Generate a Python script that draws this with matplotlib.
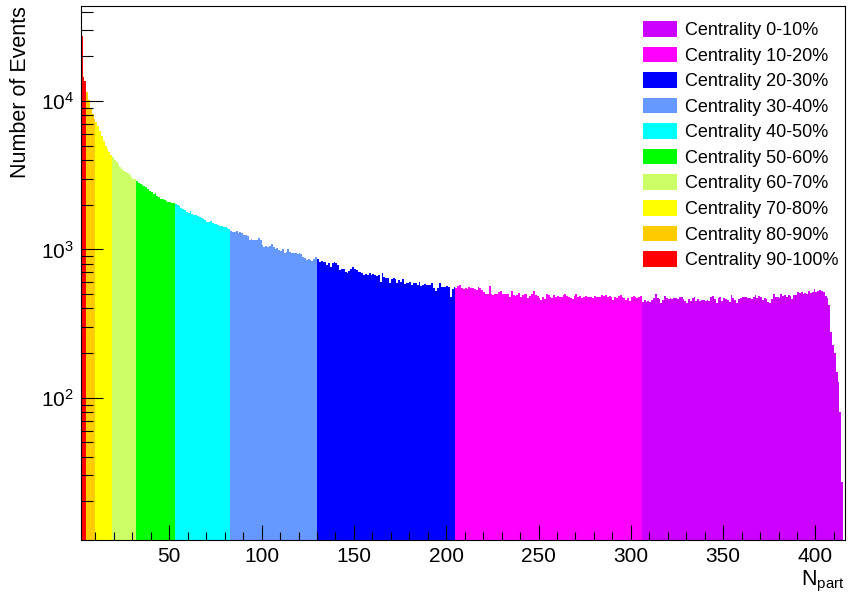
import numpy as np
import matplotlib
matplotlib.use('Agg')
import matplotlib.pyplot as plt
from matplotlib.patches import Patch
from matplotlib.ticker import LogLocator, NullFormatter, MultipleLocator

plt.rcParams['font.family'] = ['Liberation Sans', 'DejaVu Sans']
plt.rcParams['mathtext.fontset'] = 'custom'
plt.rcParams['mathtext.rm'] = 'Liberation Sans'
plt.rcParams['mathtext.it'] = 'Liberation Sans:italic'
plt.rcParams['mathtext.default'] = 'regular'

# Npart histogram, 1-wide bins, one list per centrality class
classes = ['0-10%', '10-20%', '20-30%', '30-40%', '40-50%',
           '50-60%', '60-70%', '70-80%', '80-90%', '90-100%']
colors = ['#cc00ff', '#ff00ff', '#0000ff', '#6699ff', '#00ffff',
          '#00ff00', '#ccff66', '#ffff00', '#ffcc00', '#ff0000']
first_bin = [306, 205, 130, 83, 53, 32, 19, 10, 5, 2]

c90_100 = [27300, 14400, 13600]
c80_90 = [11500, 10200, 9030, 8130, 7600]
c70_80 = [7220, 6760, 6250, 5780, 5380, 5010, 4750, 4510, 4330]
c60_70 = [4160, 3990, 3850, 3750, 3590, 3470, 3360, 3310, 3270, 3170, 3060, 3000, 2960]
c50_60 = [2890, 2820, 2760, 2720, 2680, 2620, 2540, 2490, 2430, 2370, 2390,
          2290, 2250, 2200, 2180, 2140, 2120, 2090, 2070, 2060, 2050]
c40_50 = [2036, 2005, 1954, 1913, 1875, 1837, 1799, 1762, 1818, 1735,
          1717, 1699, 1673, 1647, 1630, 1605, 1572, 1540, 1532, 1548,
          1516, 1493, 1478, 1463, 1447, 1433, 1418, 1410, 1396, 1375]
c30_40 = [1333, 1310, 1310, 1322, 1290,
          1299, 1279, 1246, 1259, 1227, 1165, 1170, 1153, 1165, 1165,
          1184, 1165, 1078, 1040, 1051, 1040, 1051, 1095, 1040, 1013,
          1029, 988, 978, 998, 950, 962, 1003, 962, 948, 938,
          938, 928, 938, 928, 890, 870, 850, 855, 846, 833, 855, 882]
c20_30 = [855, 824, 837, 825, 824, 783, 803, 763, 803, 824,
          803, 783, 724, 743, 743, 706, 688, 717, 743, 763,
          732, 730, 706, 706, 695, 670, 681, 670, 695, 670,
          681, 670, 660, 670, 605, 695, 653, 637, 646, 589,
          627, 637, 632, 595, 620, 605, 627, 583, 595, 597,
          605, 574, 589, 595, 574, 605, 565, 574, 583, 574,
          574, 574, 595, 545, 526, 545, 589, 559, 554, 555,
          565, 554, 479, 537, 554]
c10_20 = [545, 565, 574, 545, 537, 545, 540, 554, 545, 545,
          537, 531, 554, 545, 531, 514, 499, 504, 565, 499,
          491, 499, 504, 518, 526, 504, 504, 499, 504, 479,
          526, 491, 484, 491, 510, 474, 491, 499, 504, 467,
          484, 504, 526, 490, 484, 467, 455, 479, 460, 499,
          491, 474, 470, 491, 479, 484, 474, 479, 491, 499,
          484, 474, 467, 460, 484, 499, 479, 484, 467, 479,
          484, 474, 480, 479, 467, 484, 479, 474, 479, 491,
          484, 491, 474, 484, 474, 455, 474, 467, 484, 491,
          479, 467, 455, 467, 450, 474, 484, 479, 467, 480, 488]
c0_10 = [443, 455, 443, 450, 443, 455, 467, 499, 467, 460,
         432, 455, 484, 467, 460, 467, 460, 467, 467, 460,
         474, 479, 460, 450, 436, 460, 450, 467, 474, 450,
         460, 450, 455, 455, 450, 455, 450, 474, 484, 460,
         436, 467, 474, 450, 467, 460, 455, 443, 491, 467,
         455, 432, 460, 467, 474, 479, 474, 467, 467, 460,
         474, 491, 467, 484, 479, 455, 467, 460, 443, 432,
         460, 499, 479, 474, 467, 499, 484, 491, 474, 491,
         484, 460, 491, 491, 518, 510, 518, 504, 510, 499,
         526, 510, 518, 537, 518, 526, 531, 526, 515, 485,
         470, 421, 278, 225, 200, 150, 128, 80, 27]

counts = [c0_10, c10_20, c20_30, c30_40, c40_50,
          c50_60, c60_70, c70_80, c80_90, c90_100]

fig = plt.figure(figsize=(8.5, 6), dpi=100)
ax = fig.add_axes([0.0949, 0.1, 0.8992, 0.8905])

handles = []
for vals, start, col, lab in zip(counts, first_bin, colors, classes):
    edges = np.arange(start, start + len(vals) + 1)
    ax.stairs(vals, edges, fill=True, color=col, baseline=1, lw=0)
    handles.append(Patch(facecolor=col, edgecolor='none', label='Centrality ' + lab))

ax.set_yscale('log')
ax.set_xlim(2, 416)
ax.set_ylim(11, 43850)

ax.xaxis.set_major_locator(MultipleLocator(50))
ax.xaxis.set_minor_locator(MultipleLocator(10))
ax.yaxis.set_major_locator(LogLocator(base=10))
ax.yaxis.set_minor_locator(LogLocator(base=10, subs=np.arange(2, 10)))
ax.yaxis.set_minor_formatter(NullFormatter())

ax.tick_params(axis='both', which='both', direction='in', top=False, right=False,
               width=0.8, labelsize=15, pad=5)
ax.tick_params(axis='x', which='major', length=11)
ax.tick_params(axis='x', which='minor', length=5.8)
ax.tick_params(axis='y', which='major', length=16)
ax.tick_params(axis='y', which='minor', length=8.4)
for sp in ax.spines.values():
    sp.set_linewidth(0.8)

ax.set_ylabel('Number of Events', fontsize=15.5, loc='top')
ax.yaxis.set_label_coords(-0.065, 1.0)
ax.set_xlabel(r'N$_{part}$', fontsize=15.5, loc='right')
ax.xaxis.set_label_coords(1.0, -0.055)

ax.legend(handles=handles, loc='upper left', bbox_to_anchor=(643 / 850, 1 - 21 / 600),
          bbox_transform=fig.transFigure, frameon=False, fontsize=13,
          handlelength=1.9, handleheight=0.95, handletextpad=0.45,
          labelspacing=0.42, borderpad=0, borderaxespad=0)

fig.savefig('out.png', dpi=100)
